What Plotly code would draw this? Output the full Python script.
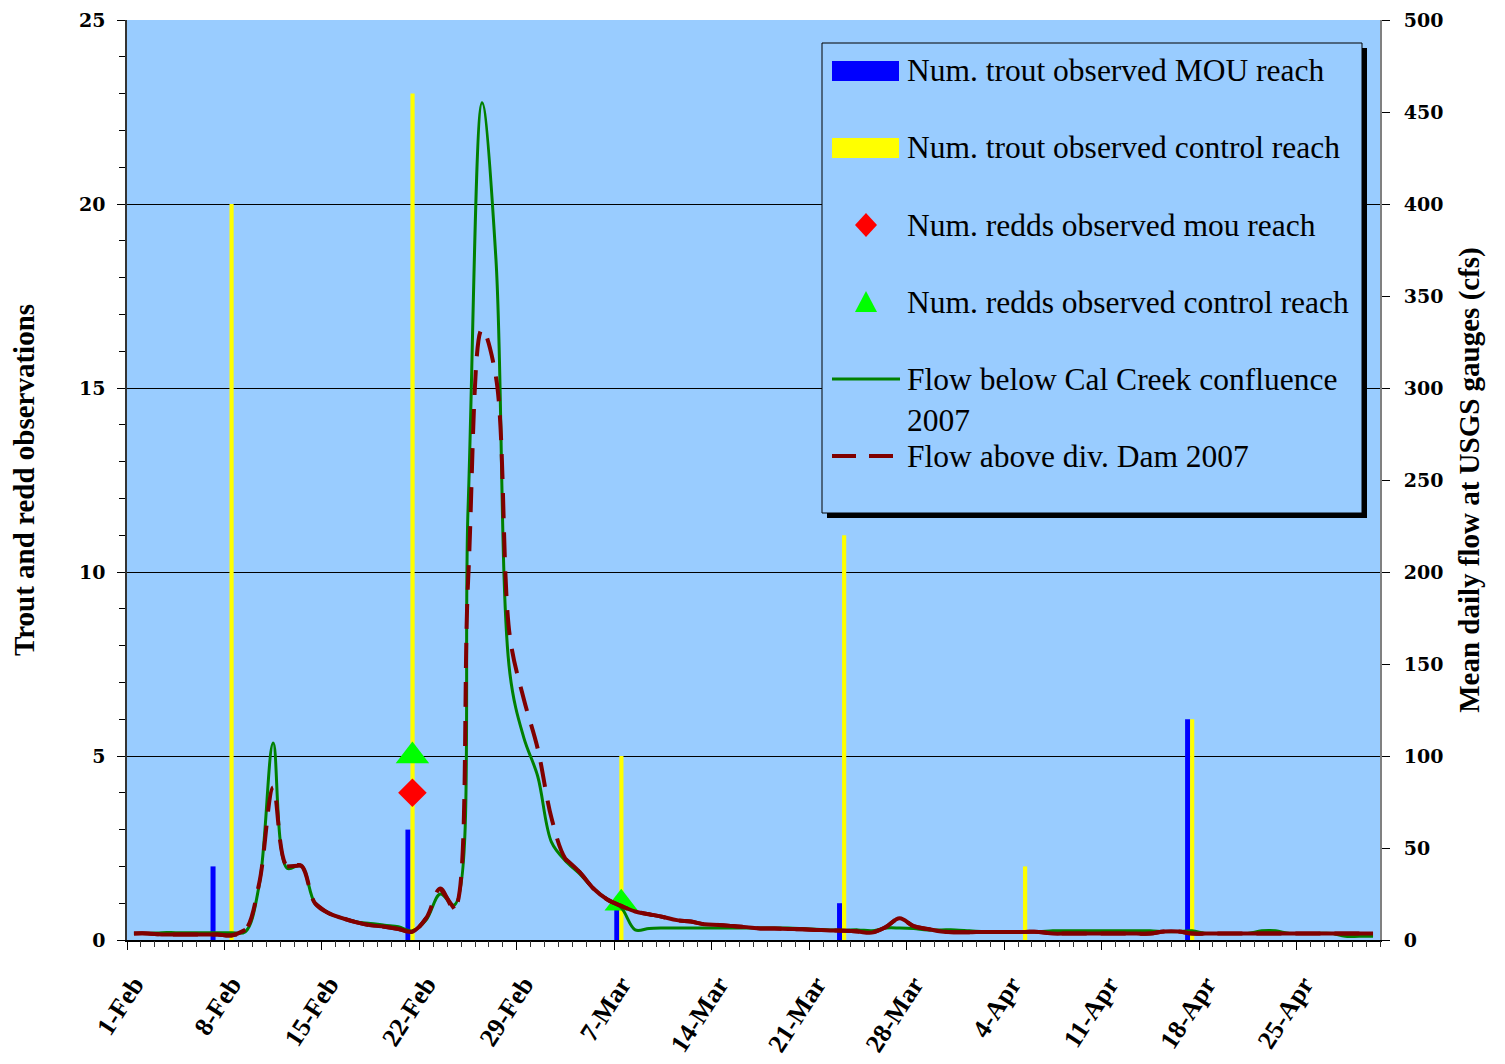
import pandas as pd
import plotly.graph_objects as go

# ---------------- data ----------------
dates = pd.date_range("2008-02-01", "2008-04-30", freq="D")

flow_below_cal_creek = [
    3.6, 3.6, 4.0, 4.0, 4.0, 4.0, 4.0, 4.0, 4.5, 30,
    107, 39, 40.5, 20, 14.5, 11.8, 9.8, 9.0, 8.0, 7.2,
    5.0, 11, 25, 19, 235, 455, 370, 145, 110, 89,
    53, 43, 36, 28, 22, 17.5, 5.5, 6.3, 6.5, 6.5,
    6.5, 6.5, 6.5, 6.5, 6.5, 6.5, 6.5, 6.5, 6.2, 5.8,
    5.5, 5.3, 5.5, 5.0, 6.5, 6.5, 6.2, 5.5, 5.5, 5.5,
    5.0, 4.6, 4.6, 4.6, 4.6, 4.6, 5.0, 5.0, 5.0, 5.0,
    5.0, 5.0, 5.0, 5.0, 4.6, 4.6, 5.0, 3.6, 3.6, 3.6,
    3.6, 5.0, 5.0, 3.6, 3.6, 3.6, 3.6, 2.0, 2.0, 2.0,
]
flow_above_div_dam = [
    3.6, 3.6, 3.0, 3.0, 3.0, 3.0, 3.0, 2.5, 5.5, 31,
    83, 40, 40.5, 20, 14.5, 11.8, 9.6, 8.0, 7.2, 6.0,
    4.5, 12, 28, 17, 195, 332, 306, 165, 131, 104,
    66, 44, 37, 28, 22, 18.5, 15.5, 14, 12.5, 10.8,
    10, 8.5, 8.2, 7.6, 7.0, 6.3, 6.2, 6.0, 5.8, 5.5,
    5.2, 5.0, 4.6, 4.0, 7.0, 11.8, 7.5, 6.0, 4.6, 4.2,
    4.2, 4.4, 4.4, 4.4, 4.4, 4.4, 3.5, 3.5, 3.5, 3.5,
    3.5, 3.5, 3.5, 3.5, 4.6, 4.6, 3.5, 3.5, 3.5, 3.5,
    3.5, 3.5, 3.5, 3.5, 3.5, 3.5, 3.5, 3.5, 3.5, 3.5,
]

mou_trout_dates = ["2008-02-07", "2008-02-21", "2008-03-07", "2008-03-23", "2008-04-17"]
mou_trout = [2, 3, 1, 1, 6]
ctrl_trout_dates = ["2008-02-08", "2008-02-21", "2008-03-07", "2008-03-23", "2008-04-05", "2008-04-17"]
ctrl_trout = [20, 23, 5, 11, 2, 6]
mou_redd_dates = ["2008-02-21"]
mou_redds = [4]
ctrl_redd_dates = ["2008-02-21", "2008-03-07"]
ctrl_redds = [5, 1]

tick_dates = dates[::7]
tick_labels = [f"{d.day}-{d.strftime('%b')}" for d in tick_dates]

series_names = [
    "Num. trout observed MOU reach",
    "Num. trout observed control reach",
    "Num. redds observed mou reach",
    "Num. redds observed control reach",
    "Flow below Cal Creek confluence<br>2007",
    "Flow above div. Dam 2007",
]

# ---------------- style ----------------
DAY = 86400000
BG = "#99CCFF"
BLUE, YELLOW, RED, LIME = "#0000FF", "#FFFF00", "#FF0000", "#00FF00"
GREEN, MAROON = "#008000", "#800000"
SERIF = "Liberation Serif"
TICKFONT = dict(family="DejaVu Serif", size=19, color="black", weight="bold")
x_range = ["2008-01-31 12:00", "2008-04-30 12:00"]

fig = go.Figure()

fig.add_trace(go.Bar(x=mou_trout_dates, y=mou_trout, name=series_names[0],
                     marker=dict(color=BLUE, line=dict(width=0)),
                     width=0.36 * DAY, offset=-0.5 * DAY, showlegend=False))
fig.add_trace(go.Bar(x=ctrl_trout_dates, y=ctrl_trout, name=series_names[1],
                     marker=dict(color=YELLOW, line=dict(width=0)),
                     width=0.3 * DAY, offset=-0.14 * DAY, showlegend=False))
fig.add_trace(go.Scatter(x=mou_redd_dates, y=mou_redds, name=series_names[2], mode="markers",
                         marker=dict(symbol="diamond", size=22, color=RED, line=dict(width=0)),
                         showlegend=False))
fig.add_trace(go.Scatter(x=ctrl_redd_dates, y=ctrl_redds, name=series_names[3], mode="markers",
                         marker=dict(symbol="triangle-up", size=29, color=LIME, line=dict(width=0)),
                         showlegend=False))
fig.add_trace(go.Scatter(x=dates, y=flow_below_cal_creek, name=series_names[4], mode="lines",
                         line=dict(color=GREEN, width=3, shape="spline", smoothing=1),
                         xaxis="x2", yaxis="y2", showlegend=False))
fig.add_trace(go.Scatter(x=dates, y=flow_above_div_dam, name=series_names[5], mode="lines",
                         line=dict(color=MAROON, width=4, shape="spline", smoothing=1, dash="25px,14px"),
                         xaxis="x2", yaxis="y2", showlegend=False))

# Excel restarts the dash pattern on every segment, so short (flat) segments look solid.
solid_x, solid_y = [], []
for i, d in enumerate(dates):
    solid_x.append(d)
    solid_y.append(flow_above_div_dam[i])
    if i < len(dates) - 1 and abs(flow_above_div_dam[i + 1] - flow_above_div_dam[i]) > 11:
        solid_x.append(d + pd.Timedelta(hours=12))
        solid_y.append(None)
fig.add_trace(go.Scatter(x=solid_x, y=solid_y, name=series_names[5], mode="lines", connectgaps=False,
                         line=dict(color=MAROON, width=4, shape="spline", smoothing=1),
                         xaxis="x2", yaxis="y2", showlegend=False, hoverinfo="skip"))

# The page places the figure 8px from the top-left corner of the window.
PAGE_OFF = 8
W, H = 1505 - PAGE_OFF, 1064 - PAGE_OFF
PLOT_L, PLOT_R, PLOT_T, PLOT_B = 127, 1380, 20, 940  # window pixels
ML, MT = PLOT_L - PAGE_OFF, PLOT_T - PAGE_OFF
PW, PH = PLOT_R - PLOT_L, PLOT_B - PLOT_T
MR, MB = W - ML - PW, H - MT - PH


def px(xp):
    return (xp - PLOT_L) / PW


def py(yp):
    return (PLOT_B - yp) / PH


shapes = []
annotations = []
# legend shadow and box
shapes.append(dict(type="rect", xref="paper", yref="paper", x0=px(827), x1=px(1367), y0=py(518), y1=py(48),
                   fillcolor="black", line=dict(width=0), layer="above"))
shapes.append(dict(type="rect", xref="paper", yref="paper", x0=px(822), x1=px(1362), y0=py(513), y1=py(43),
                   fillcolor=BG, line=dict(color="black", width=1), layer="above"))
# legend swatches
rows = [71, 148, 225, 302, 379, 456]
shapes.append(dict(type="rect", xref="paper", yref="paper", x0=px(832), x1=px(899), y0=py(rows[0] + 10), y1=py(rows[0] - 10),
                   fillcolor=BLUE, line=dict(width=0), layer="above"))
shapes.append(dict(type="rect", xref="paper", yref="paper", x0=px(832), x1=px(899), y0=py(rows[1] + 10), y1=py(rows[1] - 10),
                   fillcolor=YELLOW, line=dict(width=0), layer="above"))
cy = rows[2]
shapes.append(dict(type="path", xref="paper", yref="paper",
                   path=f"M {px(855)} {py(cy)} L {px(866)} {py(cy-12)} L {px(877)} {py(cy)} L {px(866)} {py(cy+12)} Z",
                   fillcolor=RED, line=dict(width=0), layer="above"))
cy = rows[3]
shapes.append(dict(type="path", xref="paper", yref="paper",
                   path=f"M {px(855)} {py(cy+10)} L {px(866)} {py(cy-11)} L {px(877)} {py(cy+10)} Z",
                   fillcolor=LIME, line=dict(width=0), layer="above"))
shapes.append(dict(type="line", xref="paper", yref="paper", x0=px(832), x1=px(900), y0=py(rows[4]), y1=py(rows[4]),
                   line=dict(color=GREEN, width=3), layer="above"))
for a, b in [(832, 856), (869, 893)]:
    shapes.append(dict(type="line", xref="paper", yref="paper", x0=px(a), x1=px(b), y0=py(rows[5]), y1=py(rows[5]),
                       line=dict(color=MAROON, width=4), layer="above"))

label_rows = [rows[0], rows[1], rows[2], rows[3], 399.5, rows[5]]
for name, yy in zip(series_names, label_rows):
    annotations.append(dict(xref="paper", yref="paper", x=px(905), y=py(yy), xanchor="left", yanchor="middle",
                            text=name, showarrow=False, align="left",
                            font=dict(family=SERIF, size=31.5, color="black")))

fig.update_layout(
    width=W, height=H,
    margin=dict(l=ML, r=MR, t=MT, b=MB, autoexpand=False),
    paper_bgcolor="white", plot_bgcolor=BG,
    barmode="overlay", showlegend=False,
    shapes=shapes, annotations=annotations,
    xaxis=dict(type="date", range=x_range, tickvals=list(tick_dates), ticktext=tick_labels,
               tickangle=-57, ticks="", ticklabelstandoff=17, automargin=False,
               tickfont=dict(family=SERIF, size=26, color="black", weight="bold"),
               showline=True, linecolor="black", linewidth=1.5, showgrid=False, zeroline=False),
    xaxis2=dict(type="date", range=x_range, overlaying="x", anchor="y", side="bottom", automargin=False,
                tick0="2008-01-31 12:00", dtick=7 * DAY, ticks="outside", ticklen=9, tickcolor="black",
                showticklabels=False, showgrid=False, zeroline=False, showline=False,
                minor=dict(tick0="2008-01-31 12:00", dtick=DAY, ticks="outside", ticklen=6,
                           tickcolor="#333333", showgrid=False)),
    yaxis=dict(range=[0, 25], dtick=5, ticks="outside", ticklen=8, tickcolor="black", automargin=False,
               minor=dict(dtick=1, ticks="outside", ticklen=6, tickcolor="black", showgrid=False),
               showgrid=True, gridcolor="black", gridwidth=1, zeroline=False,
               showline=True, linecolor="#333333", linewidth=1.5,
               tickfont=TICKFONT, ticklabelstandoff=8,
               title=dict(text="Trout and redd observations", standoff=43,
                          font=dict(family=SERIF, size=29, color="black", weight="bold"))),
    yaxis2=dict(range=[0, 500], dtick=50, overlaying="y", side="right", anchor="x2", automargin=False,
                ticks="outside", ticklen=8, tickcolor="black",
                showgrid=False, zeroline=False, showline=True, linecolor="#808080", linewidth=2,
                tickfont=TICKFONT, ticklabelstandoff=10,
                title=dict(text="Mean daily flow at USGS gauges (cfs)", standoff=16,
                           font=dict(family=SERIF, size=29, color="black", weight="bold"))),
)

fig.write_html("out.html")
